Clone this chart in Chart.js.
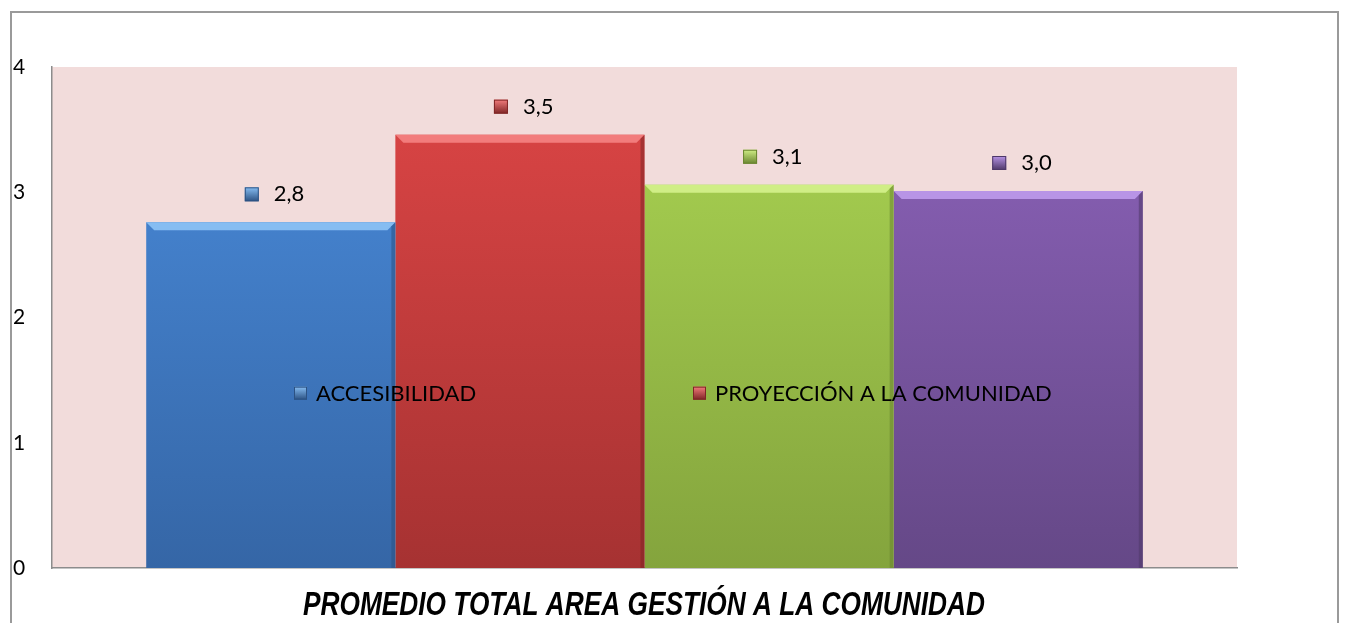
<!DOCTYPE html>
<html>
<head>
<meta charset="utf-8">
<script src="https://cdn.jsdelivr.net/npm/chart.js@4/dist/chart.umd.min.js"></script>
<style>
  html, body { margin: 0; padding: 0; background: #fff; overflow: hidden; }
  #wrap { position: relative; width: 1349px; height: 623px; }
</style>
</head>
<body>
<div id="wrap"><canvas id="chart" width="1349" height="623"></canvas></div>
<script>
// --- datos ---
const series = ['ACCESIBILIDAD', 'PROYECCIÓN A LA COMUNIDAD', 'PARTICIPACIÓN Y CONVIVENCIA', 'PREVENCIÓN DE RIESGOS'];
const values = [2.76, 3.46, 3.06, 3.01];
const legendShown = ['ACCESIBILIDAD', 'PROYECCIÓN A LA COMUNIDAD']; // el resto no cabe en la leyenda
const yTicks = [0, 1, 2, 3, 4];
const chartTitle = 'PROMEDIO TOTAL AREA GESTIÓN A LA COMUNIDAD';

// colores por serie: arriba, abajo, brillo, borde
const palette = [
  { top: '#4A8CDC', bottom: '#3566A6', light: '#86BDF2', edge: '#2C5283' },
  { top: '#DE4646', bottom: '#A63232', light: '#F27C7C', edge: '#7F2525' },
  { top: '#ABD553', bottom: '#84A43D', light: '#D0EE86', edge: '#6A8530' },
  { top: '#8D63BB', bottom: '#654887', light: '#B894E6', edge: '#4E3868' }
];

const FONT = 'Lato, "Open Sans", sans-serif';

const fmt = v => v.toFixed(1).replace('.', ',');

const barGradient = (ctx, i) => {
  const chart = ctx.chart;
  const el = ctx.element;
  const area = chart.chartArea;
  if (!area) return palette[i].top;
  const y0 = el && el.y !== undefined ? el.y : area.top;
  const g = chart.ctx.createLinearGradient(0, y0, 0, area.bottom);
  g.addColorStop(0, palette[i].top);
  g.addColorStop(1, palette[i].bottom);
  return g;
};

const drawMarker = (c, x, y, s, col) => {
  const g = c.createLinearGradient(0, y, 0, y + s);
  g.addColorStop(0, col.light);
  g.addColorStop(1, col.edge);
  c.fillStyle = g;
  c.fillRect(x, y, s, s);
  c.strokeStyle = col.edge;
  c.lineWidth = 1;
  c.strokeRect(x + 0.5, y + 0.5, s - 1, s - 1);
};

// fondo del área, marco y relieve de barras
const decorPlugin = {
  id: 'decor',
  beforeDraw(chart) {
    const { ctx, chartArea: a } = chart;
    ctx.save();
    ctx.fillStyle = '#fff';
    ctx.fillRect(0, 0, chart.width, chart.height);
    ctx.fillStyle = '#F2DCDB';
    ctx.fillRect(a.left, a.top, a.right - a.left, a.bottom - a.top);
    ctx.strokeStyle = '#9a9a9a';
    ctx.lineWidth = 2;
    ctx.strokeRect(11, 12, 1327, 640);
    ctx.restore();
  },
  afterDatasetsDraw(chart) {
    const ctx = chart.ctx;
    ctx.save();
    chart.data.datasets.forEach((ds, i) => {
      const el = chart.getDatasetMeta(i).data[0];
      const col = palette[i];
      const l = el.x - el.width / 2, r = el.x + el.width / 2, t = el.y, b = el.base;
      const bev = 8;
      // brillo superior
      ctx.fillStyle = col.light;
      ctx.beginPath();
      ctx.moveTo(l, t); ctx.lineTo(r, t); ctx.lineTo(r - bev, t + bev); ctx.lineTo(l + bev, t + bev);
      ctx.closePath(); ctx.fill();
      // borde derecho
      ctx.fillStyle = col.edge;
      ctx.globalAlpha = 0.55;
      ctx.beginPath();
      ctx.moveTo(r, t); ctx.lineTo(r, b); ctx.lineTo(r - 4, b); ctx.lineTo(r - 4, t + 4);
      ctx.closePath(); ctx.fill();
      ctx.globalAlpha = 1;
    });
    ctx.restore();
  }
};

// etiquetas de valor, leyenda dentro del área y título estrecho
const labelPlugin = {
  id: 'labels',
  afterDraw(chart) {
    const ctx = chart.ctx;
    ctx.save();
    ctx.textBaseline = 'middle';
    ctx.textAlign = 'left';
    ctx.fillStyle = '#000';
    ctx.font = '22px ' + FONT;
    chart.data.datasets.forEach((ds, i) => {
      const el = chart.getDatasetMeta(i).data[0];
      const y = el.y - 28;
      drawMarker(ctx, el.x - 26, y - 7, 14, palette[i]);
      ctx.fillStyle = '#000';
      ctx.fillText(fmt(ds.data[0]), el.x + 3, y);
    });
    // leyenda
    const a = chart.chartArea;
    const ly = a.top + (a.bottom - a.top) * 0.65;
    ctx.font = '22px ' + FONT;
    const pos = [a.left + 242, a.left + 641];
    legendShown.forEach((name, k) => {
      const i = series.indexOf(name);
      drawMarker(ctx, pos[k], ly - 6, 13, palette[i]);
      ctx.fillStyle = '#000';
      ctx.fillText(name, pos[k] + 22, ly + 1);
    });
    // título (fuente condensada simulada)
    ctx.font = 'italic bold 33px "Liberation Sans", Arial, sans-serif';
    ctx.textAlign = 'center';
    const w = ctx.measureText(chartTitle).width;
    const cx = 644;
    ctx.translate(cx, a.bottom + 38);
    ctx.scale(682 / w, 1);
    ctx.fillText(chartTitle, 0, 0);
    ctx.restore();
  }
};

new Chart(document.getElementById('chart'), {
  type: 'bar',
  data: {
    labels: [''],
    datasets: series.map((name, i) => ({
      label: name,
      data: [values[i]],
      backgroundColor: ctx => barGradient(ctx, i),
      borderWidth: 0
    }))
  },
  options: {
    responsive: false,
    animation: false,
    layout: { padding: { top: 67, left: 13, right: 112, bottom: 55 } },
    datasets: { bar: { categoryPercentage: 0.841, barPercentage: 1 } },
    plugins: {
      legend: { display: false },
      tooltip: { enabled: false },
      title: { display: false }
    },
    scales: {
      x: {
        grid: { display: false, drawTicks: false },
        ticks: { display: false },
        border: { color: '#8c8c8c', width: 1.5 }
      },
      y: {
        min: yTicks[0],
        max: yTicks[yTicks.length - 1],
        afterBuildTicks: s => { s.ticks = yTicks.map(v => ({ value: v })); },
        afterFit: s => { s.width = 39; },
        grid: { display: false, drawTicks: false },
        border: { color: '#8c8c8c', width: 1.5 },
        ticks: {
          crossAlign: 'far',
          padding: 0,
          color: '#000',
          font: { family: FONT, size: 21 },
          callback: v => String(v)
        }
      }
    }
  },
  plugins: [decorPlugin, labelPlugin]
});
</script>
</body>
</html>
